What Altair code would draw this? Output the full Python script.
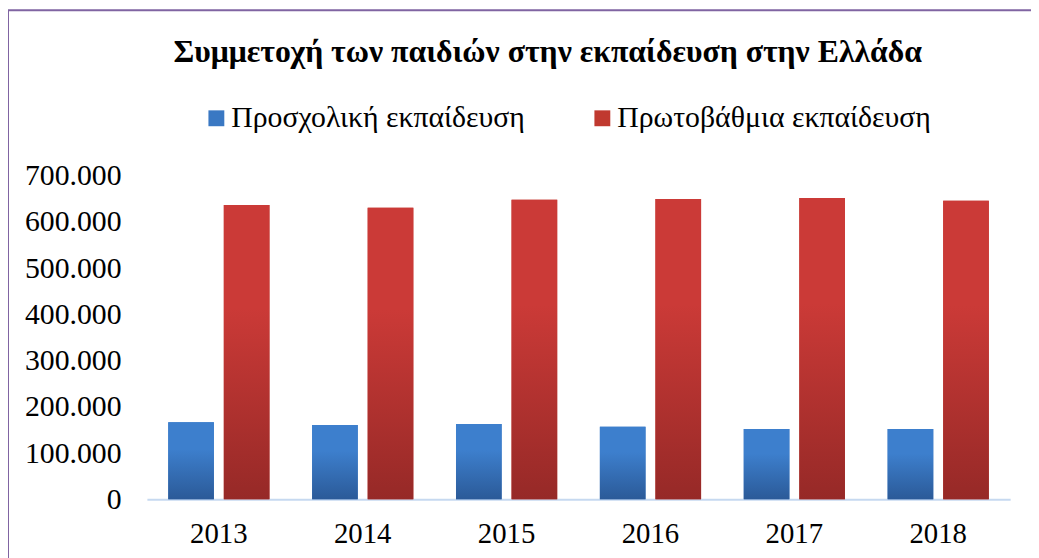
import altair as alt
import pandas as pd

years = ["2013", "2014", "2015", "2016", "2017", "2018"]
series_names = ["Προσχολική εκπαίδευση", "Πρωτοβάθμια εκπαίδευση"]
preschool = [167000, 161000, 163000, 157000, 152000, 152000]
primary = [637000, 631000, 648000, 650000, 652000, 646000]
y_ticks = [0, 100000, 200000, 300000, 400000, 500000, 600000, 700000]
title_text = "Συμμετοχή των παιδιών στην εκπαίδευση στην Ελλάδα"

rows = []
for i, yr in enumerate(years):
    rows.append({"year": yr, "series": series_names[0], "value": preschool[i]})
    rows.append({"year": yr, "series": series_names[1], "value": primary[i]})
df = pd.DataFrame(rows)

FONT = "Liberation Serif"
W, H = 870, 326

x_enc = alt.X("year:N", sort=years, title=None,
              scale=alt.Scale(paddingInner=0, paddingOuter=0),
              axis=alt.Axis(labelAngle=0, labelFont=FONT, labelFontSize=29,
                            labelColor="black", labelPadding=21, ticks=False,
                            domainColor="#C6D9F0", domainWidth=2))
xo_enc = alt.XOffset("series:N", sort=series_names,
                     scale=alt.Scale(domain=series_names, paddingInner=10 / 56,
                                     paddingOuter=0.384))
y_enc = alt.Y("value:Q", title=None,
              scale=alt.Scale(domain=[0, 700000], nice=False),
              axis=alt.Axis(values=y_ticks, grid=False, domain=False, ticks=False,
                            labelFont=FONT, labelFontSize=30, labelColor="black",
                            labelPadding=26,
                            labelExpr="replace(format(datum.value, ','), regexp(',', 'g'), '.')"))

solid = alt.Chart(df).mark_bar().encode(
    x=x_enc, xOffset=xo_enc, y=y_enc,
    color=alt.Color("series:N", sort=series_names,
                    scale=alt.Scale(domain=series_names, range=["#3A78C3", "#C0392F"]),
                    legend=alt.Legend(title=None, orient="none", direction="horizontal",
                                      legendX=55, legendY=-73, symbolType="square",
                                      symbolSize=256, symbolStrokeWidth=0,
                                      labelFont=FONT, labelFontSize=30, labelColor="black",
                                      labelOffset=0, columnPadding=62, labelLimit=400)),
)


def grad(top, bottom):
    return alt.LinearGradient(gradient="linear", x1=0, y1=0, x2=0, y2=1,
                              stops=[alt.GradientStop(offset=0, color=top),
                                     alt.GradientStop(offset=0.35, color=top),
                                     alt.GradientStop(offset=1, color=bottom)])


blue = alt.Chart(df).transform_filter(alt.datum.series == series_names[0]).mark_bar(
    fill=grad("#3D7FCD", "#2B5A98")).encode(x=x_enc, xOffset=xo_enc, y=y_enc)
red = alt.Chart(df).transform_filter(alt.datum.series == series_names[1]).mark_bar(
    fill=grad("#CB3A37", "#962927")).encode(x=x_enc, xOffset=xo_enc, y=y_enc)

border = alt.Chart(alt.Data(values=[{"a": 1}])).mark_rect(
    filled=False, stroke="#8064A2", strokeWidth=2).encode(
    x=alt.value(-140), x2=alt.value(W + 60), y=alt.value(-167), y2=alt.value(H + 80))

chart = alt.layer(solid, blue, red, border).properties(
    width=W, height=H,
    background="white",
    title=alt.TitleParams(title_text, font=FONT, fontSize=32, fontWeight="bold",
                          color="black", anchor="middle", dx=-31, dy=60, offset=0),
    autosize=alt.AutoSizeParams(type="none"),
    padding={"left": 140, "top": 167, "right": 21, "bottom": 57},
).configure_view(strokeWidth=0, stroke="transparent").configure_legend(labelFont=FONT)

chart.save("out.html", embed_options={"renderer": "svg", "actions": False})
